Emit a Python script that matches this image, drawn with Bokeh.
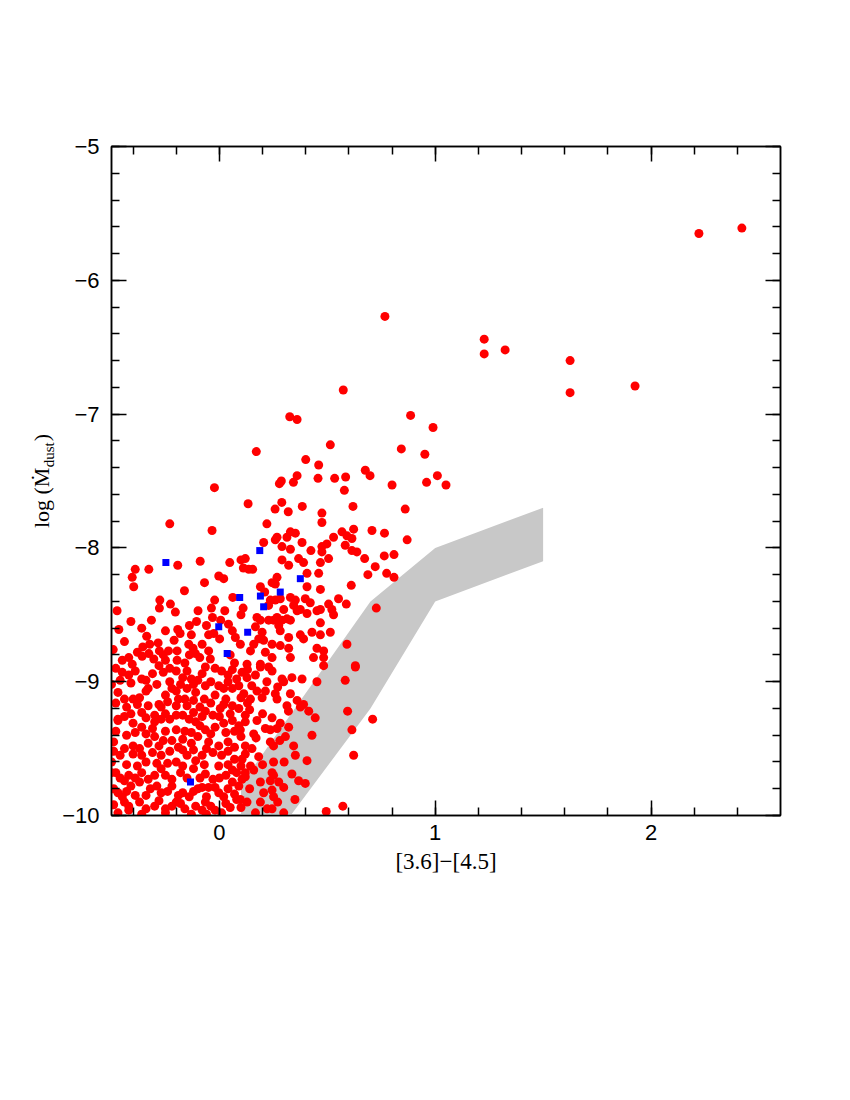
from bokeh.plotting import figure
from bokeh.models import Range1d, FixedTicker, LinearAxis
from bokeh.embed import file_html
from bokeh.resources import INLINE

# ---------------- data ----------------
band_x = [0.10, 0.10, 0.70, 1.00, 1.50, 1.50, 1.00, 0.70, 0.33]
band_y = [-10.0, -9.77, -8.40, -8.00, -7.70, -8.10, -8.40, -9.20, -10.0]

blue_x = [-0.248, 0.187, 0.375, 0.282, 0.094, 0.190, 0.205, -0.003, 0.131, 0.036, -0.134]
blue_y = [-8.11, -8.02, -8.23, -8.33, -8.37, -8.36, -8.44, -8.59, -8.63, -8.79, -9.75]

red_upper = [
    (0.767, -6.27), (0.574, -6.82), (0.326, -7.02), (0.36, -7.04), (0.886, -7.01), (0.99, -7.10),
    (0.514, -7.23), (0.171, -7.28), (0.843, -7.26), (0.952, -7.30), (0.40, -7.34), (0.46, -7.38),
    (0.676, -7.42), (0.698, -7.46), (0.36, -7.46), (0.287, -7.50), (0.278, -7.52), (0.343, -7.51),
    (0.457, -7.48), (0.534, -7.48), (0.585, -7.47), (1.01, -7.46), (0.96, -7.51), (1.05, -7.53),
    (0.80, -7.53), (-0.023, -7.55), (0.579, -7.57), (0.133, -7.67), (0.289, -7.66), (0.258, -7.71),
    (0.319, -7.73), (0.384, -7.69), (0.619, -7.69), (0.861, -7.71), (0.475, -7.74),
    (1.227, -6.44), (1.227, -6.55), (1.324, -6.52), (1.625, -6.60), (1.625, -6.84), (1.926, -6.79),
    (2.222, -5.65), (2.421, -5.61),
    (0.765, -7.89), (0.87, -7.94), (0.764, -8.06), (0.809, -8.05), (0.775, -8.19), (0.809, -8.22),
]

red_mid_left = [
    (-0.23, -7.82), (-0.034, -7.87), (-0.193, -8.13), (-0.089, -8.10), (0.048, -8.11), (0.10, -8.09),
    (0.12, -8.08), (0.111, -8.15),
    (-0.39, -8.16), (-0.327, -8.16), (-0.404, -8.22), (-0.397, -8.29), (-0.069, -8.26), (-0.003, -8.21),
    (0.02, -8.23), (-0.162, -8.32), (-0.276, -8.39), (-0.227, -8.42), (-0.278, -8.45), (-0.204, -8.48),
    (-0.474, -8.47), (-0.315, -8.54), (-0.466, -8.61), (-0.022, -8.39), (0.062, -8.37), (-0.037, -8.45),
    (0.025, -8.47), (-0.099, -8.47), (0.11, -8.45), (0.10, -8.50), (-0.032, -8.52), (0.006, -8.54),
    (0.042, -8.57), (-0.106, -8.55), (-0.139, -8.58), (-0.193, -8.61), (-0.182, -8.64), (-0.05, -8.65),
    (-0.026, -8.64), (0.001, -8.68), (0.074, -8.67), (0.097, -8.72), (-0.337, -8.66), (-0.492, -8.76),
    (-0.355, -8.74), (-0.323, -8.72), (-0.284, -8.71), (-0.21, -8.69), (-0.236, -8.77), (-0.196, -8.77),
    (-0.142, -8.72), (-0.122, -8.75), (-0.111, -8.79), (-0.139, -8.80), (-0.091, -8.82), (-0.278, -8.77),
    (-0.327, -8.79), (-0.358, -8.81), (-0.42, -8.82), (-0.404, -8.87), (-0.304, -8.83), (-0.25, -8.84),
    (-0.196, -8.84), (-0.05, -8.77), (-0.042, -8.83), (-0.51, -8.76),
    (-0.45, -8.84), (-0.38, -8.78), (-0.26, -8.80), (-0.16, -8.86), (-0.08, -8.72), (0.05, -8.80),
    (0.07, -8.86), (-0.44, -8.70), (-0.25, -8.62), (-0.13, -8.65), (-0.41, -8.55), (-0.36, -8.60),
    (-0.06, -8.58), (0.06, -8.62),
]

red_mid_right = [
    (0.22, -7.82), (0.475, -7.81), (0.329, -7.88), (0.352, -7.89), (0.383, -7.96), (0.313, -7.92),
    (0.267, -7.92), (0.259, -7.94), (0.205, -7.96), (0.29, -7.99), (0.329, -8.01), (0.424, -8.02),
    (0.475, -7.99), (0.475, -8.03), (0.498, -7.97), (0.529, -7.92), (0.568, -7.88), (0.591, -7.91),
    (0.622, -7.86), (0.614, -7.93), (0.583, -7.98), (0.614, -8.02), (0.637, -8.03), (0.707, -7.87),
    (0.673, -8.08), (0.722, -8.14), (0.688, -8.20), (0.611, -8.28), (0.29, -8.09), (0.321, -8.13),
    (0.367, -8.08), (0.39, -8.11), (0.406, -8.19), (0.46, -8.19), (0.468, -8.11), (0.506, -8.08),
    (0.406, -8.29), (0.468, -8.31), (0.552, -8.38), (0.588, -8.42), (0.136, -8.16), (0.154, -8.16),
    (0.267, -8.22), (0.244, -8.26), (0.259, -8.27), (0.19, -8.29), (0.21, -8.33), (0.236, -8.39),
    (0.228, -8.43), (0.259, -8.39), (0.282, -8.38), (0.298, -8.46), (0.329, -8.37), (0.352, -8.39),
    (0.36, -8.47), (0.344, -8.43), (0.398, -8.38), (0.421, -8.41), (0.452, -8.47), (0.468, -8.46),
    (0.506, -8.42), (0.521, -8.46), (0.529, -8.50), (0.329, -8.54), (0.313, -8.53), (0.29, -8.54),
    (0.267, -8.52), (0.251, -8.54), (0.228, -8.54), (0.19, -8.54), (0.174, -8.52), (0.167, -8.59),
    (0.198, -8.63), (0.275, -8.58), (0.282, -8.62), (0.468, -8.56), (0.406, -8.49), (0.375, -8.46),
    (0.375, -8.65), (0.39, -8.68), (0.321, -8.67), (0.244, -8.72), (0.282, -8.73), (0.321, -8.75),
    (0.205, -8.69), (0.182, -8.68), (0.159, -8.72), (0.144, -8.77), (0.213, -8.78), (0.244, -8.82),
    (0.128, -8.87), (0.19, -8.87), (0.228, -8.89), (0.329, -8.82), (0.436, -8.82), (0.452, -8.75),
    (0.483, -8.77), (0.483, -8.82), (0.468, -8.65), (0.514, -8.63), (0.429, -8.63), (0.591, -8.72),
    (0.63, -8.88), (0.727, -8.45),
]

red_low_left = [
    (-0.48, -8.90), (-0.42, -8.95), (-0.46, -8.99), (-0.36, -8.98), (-0.34, -8.99), (-0.23, -8.90),
    (-0.20, -8.92), (-0.17, -8.97), (-0.13, -8.98), (-0.10, -8.99), (-0.065, -8.89), (-0.02, -8.90),
    (0.01, -8.92), (0.04, -8.95), (0.08, -8.98), (-0.23, -9.00), (-0.28, -8.88),
    (-0.45, -8.93), (-0.39, -8.92), (-0.31, -8.94), (-0.26, -8.93), (-0.15, -8.92), (-0.08, -8.94),
    (0.06, -8.91), (0.13, -8.91),
    (-0.50, -9.02), (-0.41, -9.01), (-0.29, -9.02), (-0.18, -9.02), (-0.12, -9.02), (-0.04, -9.00),
    (0.04, -9.00), (0.09, -9.03),
    (-0.47, -9.08), (-0.44, -9.13), (-0.37, -9.12), (-0.34, -9.07), (-0.33, -9.05), (-0.25, -9.10),
    (-0.22, -9.05), (-0.20, -9.07), (-0.15, -9.05), (-0.11, -9.08), (-0.07, -9.13), (-0.065, -9.03),
    (-0.003, -9.03), (0.02, -9.05), (0.06, -9.05), (0.10, -9.12), (-0.02, -9.10), (0.03, -9.13),
    (-0.16, -9.13), (-0.19, -9.13), (-0.40, -9.13),
    (-0.48, -9.16), (-0.43, -9.19), (-0.38, -9.17), (-0.24, -9.15), (-0.12, -9.14), (-0.04, -9.16),
    (0.02, -9.17), (0.13, -9.16),
    (-0.33, -9.18), (-0.28, -9.17), (-0.27, -9.19), (-0.20, -9.18), (-0.15, -9.18), (-0.09, -9.19),
    (-0.065, -9.22), (-0.03, -9.25), (0.004, -9.20), (0.06, -9.18), (0.09, -9.20), (-0.41, -9.24),
    (-0.36, -9.23), (-0.47, -9.28), (-0.30, -9.25), (-0.12, -9.23), (-0.17, -9.25),
    (-0.44, -9.26), (-0.34, -9.27), (-0.25, -9.24), (-0.20, -9.25), (-0.08, -9.26), (0.00, -9.26),
    (0.05, -9.24), (0.12, -9.25),
    (-0.47, -9.29), (-0.40, -9.31), (-0.36, -9.34), (-0.30, -9.30), (-0.27, -9.28), (-0.23, -9.28),
    (-0.20, -9.36), (-0.14, -9.28), (-0.11, -9.30), (-0.09, -9.33), (-0.02, -9.34), (0.02, -9.31),
    (0.06, -9.29), (0.09, -9.33), (-0.39, -9.38), (-0.31, -9.35), (-0.065, -9.36),
    (-0.48, -9.37), (-0.43, -9.40), (-0.34, -9.39), (-0.25, -9.37), (-0.16, -9.37), (-0.13, -9.38),
    (-0.04, -9.39), (0.03, -9.38), (0.07, -9.37),
    (-0.49, -9.45), (-0.44, -9.50), (-0.40, -9.48), (-0.33, -9.46), (-0.30, -9.41), (-0.26, -9.44),
    (-0.22, -9.44), (-0.17, -9.43), (-0.13, -9.46), (-0.10, -9.41), (-0.05, -9.45), (-0.003, -9.48),
    (0.04, -9.45), (0.07, -9.49), (0.10, -9.41), (-0.28, -9.48), (-0.19, -9.49), (-0.51, -9.45),
    (-0.49, -9.52), (-0.37, -9.50), (-0.23, -9.52), (-0.12, -9.51), (-0.06, -9.50), (0.04, -9.52),
    (0.12, -9.54),
    (-0.46, -9.55), (-0.40, -9.54), (-0.36, -9.55), (-0.34, -9.60), (-0.27, -9.55), (-0.24, -9.61),
    (-0.20, -9.60), (-0.15, -9.55), (-0.11, -9.59), (-0.08, -9.55), (-0.03, -9.53), (0.01, -9.55),
    (0.07, -9.58), (0.10, -9.63), (-0.17, -9.51), (-0.31, -9.53), (-0.003, -9.63),
    (-0.50, -9.60), (-0.43, -9.62), (-0.38, -9.63), (-0.29, -9.61), (-0.17, -9.63), (-0.07, -9.62),
    (0.04, -9.62), (0.06, -9.66),
    (-0.48, -9.68), (-0.42, -9.70), (-0.36, -9.68), (-0.30, -9.70), (-0.27, -9.65), (-0.22, -9.73),
    (-0.18, -9.68), (-0.12, -9.65), (-0.065, -9.69), (-0.03, -9.73), (0.03, -9.70), (0.08, -9.68),
    (-0.44, -9.74), (-0.50, -9.68),
    (-0.46, -9.72), (-0.39, -9.72), (-0.33, -9.73), (-0.25, -9.70), (-0.15, -9.72), (-0.09, -9.72),
    (0.00, -9.72), (0.06, -9.75), (0.12, -9.71),
    (-0.47, -9.83), (-0.41, -9.78), (-0.37, -9.75), (-0.32, -9.80), (-0.27, -9.83), (-0.22, -9.78),
    (-0.17, -9.83), (-0.10, -9.80), (-0.05, -9.79), (-0.003, -9.83), (0.04, -9.80), (0.09, -9.78),
    (-0.45, -9.86), (-0.34, -9.85), (-0.14, -9.86), (-0.06, -9.86),
    (-0.49, -9.80), (-0.43, -9.82), (-0.39, -9.85), (-0.29, -9.78), (-0.24, -9.82), (-0.19, -9.85),
    (-0.12, -9.82), (-0.08, -9.79), (-0.02, -9.79), (0.02, -9.86), (0.07, -9.84),
    (-0.47, -9.98), (-0.42, -9.93), (-0.37, -9.90), (-0.30, -9.93), (-0.25, -9.95), (-0.20, -9.90),
    (-0.16, -9.95), (-0.11, -9.93), (-0.065, -9.90), (-0.02, -9.96), (0.01, -9.98), (0.05, -9.94),
    (-0.42, -9.96), (-0.25, -9.98), (-0.13, -9.99), (0.08, -9.88),
    (-0.49, -9.92), (-0.44, -9.90), (-0.34, -9.95), (-0.28, -9.89), (-0.22, -9.93), (-0.18, -9.91),
    (-0.08, -9.96), (-0.04, -9.93), (0.03, -9.91), (0.10, -9.94), (-0.36, -9.99), (-0.06, -9.99),
]

red_low_right = [
    (0.105, -8.93), (0.128, -8.97), (0.167, -8.95), (0.19, -8.89), (0.244, -8.92), (0.29, -8.98),
    (0.298, -9.00), (0.336, -8.97), (0.383, -8.98), (0.452, -9.00), (0.483, -8.88), (0.583, -8.99),
    (0.63, -8.89),
    (0.113, -9.09), (0.144, -9.13), (0.174, -9.07), (0.213, -9.07), (0.198, -9.12), (0.259, -9.09),
    (0.267, -9.13), (0.329, -9.09), (0.36, -9.14), (0.39, -9.17), (0.375, -9.19), (0.414, -9.22),
    (0.444, -9.27), (0.313, -9.18), (0.594, -9.22), (0.71, -9.28),
    (0.12, -9.30), (0.174, -9.29), (0.244, -9.27), (0.159, -9.39), (0.213, -9.35), (0.236, -9.36),
    (0.267, -9.35), (0.282, -9.31), (0.321, -9.34), (0.306, -9.41), (0.429, -9.40), (0.614, -9.36),
    (0.097, -9.36),
    (0.12, -9.48), (0.151, -9.50), (0.182, -9.56), (0.236, -9.45), (0.251, -9.48), (0.344, -9.48),
    (0.352, -9.55), (0.406, -9.59), (0.251, -9.60), (0.622, -9.55), (0.105, -9.58),
    (0.12, -9.68), (0.159, -9.66), (0.244, -9.68), (0.19, -9.75), (0.236, -9.74), (0.275, -9.75),
    (0.336, -9.69), (0.367, -9.74), (0.398, -9.76), (0.105, -9.73), (0.144, -9.63), (0.251, -9.70),
    (0.205, -9.83), (0.244, -9.81), (0.298, -9.79), (0.251, -9.86), (0.128, -9.90), (0.097, -9.88),
    (0.221, -9.95), (0.244, -9.95), (0.298, -9.98), (0.495, -9.97), (0.572, -9.93), (0.167, -9.98),
    (0.15, -9.03), (0.22, -9.00), (0.27, -9.04), (0.14, -9.21), (0.20, -9.24), (0.17, -9.42),
    (0.28, -9.44), (0.20, -9.62), (0.30, -9.60), (0.14, -9.80), (0.19, -9.90), (0.27, -9.90),
    (0.35, -9.88), (0.32, -9.22),
]

x_major = [0, 1, 2]
x_labels = ["0", "1", "2"]
y_major = [-10, -9, -8, -7, -6, -5]
y_labels = ["\u221210", "\u22129", "\u22128", "\u22127", "\u22126", "\u22125"]
x_minor = [round(-0.4 + 0.2 * i, 1) for i in range(15)]
y_minor = [round(-10 + 0.2 * i, 1) for i in range(26)]

x_title = "[3.6]\u2212[4.5]"
y_title_main = "log (\u1e40\u2003\u2009)"
y_title_sub = "\u2003\u2003\u2003\u2002dust"

# ---------------- figure ----------------
red_all = red_upper + red_mid_left + red_mid_right + red_low_left + red_low_right
red_x = [pt[0] for pt in red_all]
red_y = [pt[1] for pt in red_all]

p = figure(width=820, height=915, output_backend="svg", toolbar_location=None,
           x_range=Range1d(-0.5, 2.6), y_range=Range1d(-10, -5),
           x_axis_location=None, y_axis_location=None,
           min_border_left=111, min_border_right=40, min_border_top=146, min_border_bottom=100)
p.xgrid.visible = False
p.ygrid.visible = False
p.outline_line_color = "black"
p.outline_line_width = 1.5
p.background_fill_color = "white"
p.border_fill_color = "white"

xt = FixedTicker(ticks=x_major, minor_ticks=x_minor)
yt = FixedTicker(ticks=y_major, minor_ticks=y_minor)

def style(ax):
    ax.major_tick_in = 15
    ax.major_tick_out = 0
    ax.minor_tick_in = 8
    ax.minor_tick_out = 0
    ax.axis_line_width = 1.5
    ax.major_tick_line_width = 1.5
    ax.minor_tick_line_width = 1.5
    ax.axis_line_color = "black"
    ax.major_tick_line_color = "black"
    ax.minor_tick_line_color = "black"
    ax.major_label_text_font = "Liberation Sans"
    ax.major_label_text_font_size = "22px"
    ax.major_label_text_color = "black"

bottom = LinearAxis(ticker=xt, major_label_overrides=dict(zip(x_major, x_labels)))
style(bottom)
bottom.major_label_standoff = 9
bottom.axis_label = x_title
bottom.axis_label_text_font = "Liberation Serif"
bottom.axis_label_text_font_size = "23px"
bottom.axis_label_text_font_style = "normal"
bottom.axis_label_text_color = "black"
bottom.axis_label_standoff = 6
p.add_layout(bottom, "below")

left = LinearAxis(ticker=yt, major_label_overrides=dict(zip(y_major, y_labels)))
style(left)
left.major_label_standoff = 12
left.axis_label = y_title_main
left.axis_label_text_font = "Liberation Serif"
left.axis_label_text_font_size = "22px"
left.axis_label_text_font_style = "normal"
left.axis_label_text_color = "black"
left.axis_label_standoff = 5
p.add_layout(left, "left")

# second (bare) left axis carrying only the subscript of the y title
sub = LinearAxis(ticker=FixedTicker(ticks=[]), axis_line_color=None,
                 major_tick_line_color=None, minor_tick_line_color=None)
sub.axis_label = y_title_sub
sub.axis_label_text_font = "Liberation Serif"
sub.axis_label_text_font_size = "15px"
sub.axis_label_text_font_style = "normal"
sub.axis_label_text_color = "black"
sub.axis_label_standoff = -30
p.add_layout(sub, "left")

top = LinearAxis(ticker=xt, major_label_overrides={t: "" for t in x_major})
style(top)
p.add_layout(top, "above")

right = LinearAxis(ticker=yt, major_label_overrides={t: "" for t in y_major})
style(right)
p.add_layout(right, "right")

p.patch(band_x, band_y, fill_color="#c8c8c8", line_color=None)
p.scatter(red_x, red_y, marker="circle", size=9, fill_color="#ff0000", line_color=None)
p.scatter(blue_x, blue_y, marker="square", size=7, fill_color="#0000ff", line_color=None)

open("out.html", "w").write(file_html(p, INLINE))
